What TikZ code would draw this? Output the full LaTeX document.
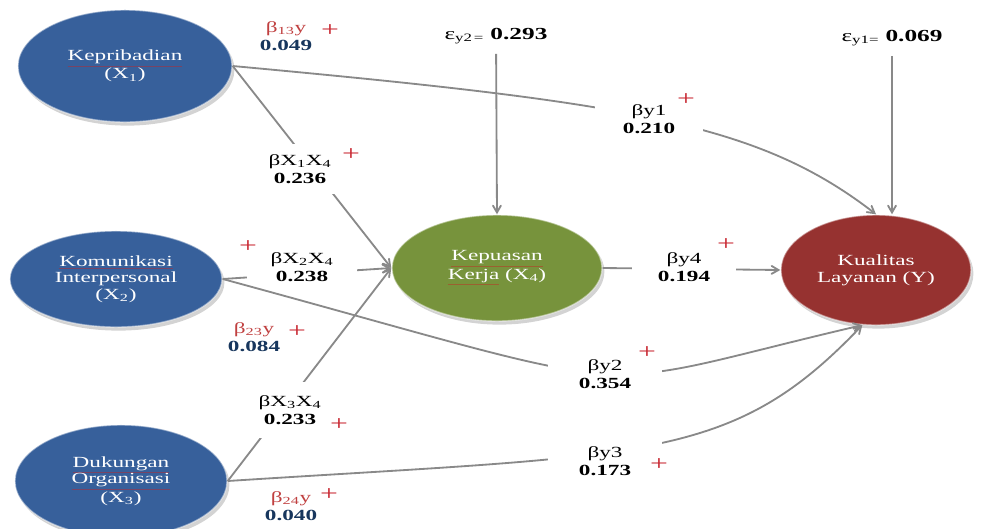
\documentclass[tikz,border=0pt]{standalone}
\usepackage{fontspec}
\setmainfont{Liberation Serif}[FakeStretch=1.5]
\usetikzlibrary{shapes.geometric, arrows, shadows}
\definecolor{varblue}{RGB}{55,96,155}
\definecolor{vargreen}{RGB}{119,147,60}
\definecolor{varred}{RGB}{150,50,48}
\definecolor{linegray}{RGB}{137,137,137}
\definecolor{betared}{RGB}{192,64,64}
\definecolor{numblue}{RGB}{23,54,93}
\definecolor{plusred}{RGB}{200,40,50}
\definecolor{spellred}{RGB}{200,35,35}
\newcommand{\spell}[1]{\textcolor{spellred}{\underline{\textcolor{white}{#1}}}}
\tikzstyle{var} = [ellipse, drop shadow={opacity=0.35,shadow xshift=0.6mm,shadow yshift=-0.9mm}, draw=white, draw opacity=0.45, line width=1pt, text=white, align=center, inner sep=0pt, font=\fontsize{11}{11.8}\selectfont]
\tikzstyle{arrow} = [line width=1.3pt, draw=linegray, ->, >=angle 60]
\tikzstyle{coef} = [fill=white, align=center, inner sep=0pt, font=\fontsize{11}{12.8}\selectfont]
\tikzstyle{err} = [inner sep=1pt, font=\fontsize{12}{13}\selectfont]
\tikzstyle{plus} = [inner sep=0pt, text=plusred, font=\fontsize{15}{15}\selectfont]

\begin{document}
\begin{tikzpicture}[x=0.025cm, y=-0.025cm]
\useasboundingbox (0,0) rectangle (981,528);

\node[var, fill=varblue, minimum width=5.35cm, minimum height=2.8cm] (X1) at (125,66) {\spell{Kepribadian}\\(X\textsubscript{1})};
\node[var, fill=varblue, minimum width=5.3cm, minimum height=2.4cm] (X2) at (116,279) {\spell{Komunikasi}\\Interpersonal\\(X\textsubscript{2})};
\node[var, fill=varblue, minimum width=5.3cm, minimum height=2.8cm] (X3) at (121,481) {\spell{Dukungan}\\\spell{Organisasi}\\(X\textsubscript{3})};
\node[var, fill=vargreen, minimum width=5.25cm, minimum height=2.65cm] (X4) at (497,268) {\spell{Kepuasan}\\\spell{Kerja} (X\textsubscript{4})};
\node[var, fill=varred, minimum width=4.75cm, minimum height=2.75cm] (Y) at (876,270) {Kualitas\\Layanan (Y)};

\node[err] (ey2) at (496,36) {ε\textsubscript{y2\,=} \textbf{0.293}};
\node[err] (ey1) at (892,38) {ε\textsubscript{y1=} \textbf{0.069}};

\draw[arrow] (X1.east) -- (X4.west);
\draw[arrow] (X2.east) -- (X4.west);
\draw[arrow] (X3.east) -- (X4.west);
\draw[arrow] (X4.east) -- (Y.west);
\draw[arrow, shorten <=0.2cm] (ey2) -- (X4.north);
\draw[arrow, shorten <=0.2cm] (ey1) -- (ey1 |- Y.north);
\draw[arrow] (X1.east) .. controls (632,103) and (758,123) .. (Y.north);
\draw[arrow] (X2.east) .. controls (672,401) and (570,393) .. (Y.-104);
\draw[arrow] (X3.east) .. controls (647,454) and (731,463) .. (Y.-104);

\node[coef, minimum width=1.95cm, minimum height=1.25cm] (bx1) at (300,169) {βX\textsubscript{1}X\textsubscript{4}\\\textbf{0.236}};
\node[coef, minimum width=2.75cm, minimum height=0.85cm] (bx2) at (302,267) {βX\textsubscript{2}X\textsubscript{4}\\\textbf{0.238}};
\node[coef, minimum width=1.75cm, minimum height=1.4cm] (bx3) at (290,410) {βX\textsubscript{3}X\textsubscript{4}\\\textbf{0.233}};
\node[coef, minimum width=2.7cm, minimum height=0.95cm] (by1) at (649,119) {βy1\\\textbf{0.210}};
\node[coef, minimum width=2.6cm, minimum height=0.9cm] (by4) at (684,267) {βy4\\\textbf{0.194}};
\node[coef, minimum width=2.85cm, minimum height=1.05cm] (by2) at (605,374) {βy2\\\textbf{0.354}};
\node[coef, minimum width=2.85cm, minimum height=1cm] (by3) at (605,461) {βy3\\\textbf{0.173}};
\node[coef, fill=none] (b13) at (286,36) {\textcolor{betared}{β\textsubscript{13}y}\\\textcolor{numblue}{\textbf{0.049}}};
\node[coef, fill=none] (b23) at (254,337) {\textcolor{betared}{β\textsubscript{23}y}\\\textcolor{numblue}{\textbf{0.084}}};
\node[coef, fill=none] (b24) at (291,506) {\textcolor{betared}{β\textsubscript{24}y}\\\textcolor{numblue}{\textbf{0.040}}};

\node[plus] (p13) at (330,31) {+};
\node[plus] (p23) at (297,332) {+};
\node[plus] (p24) at (329,495) {+};
\node[plus] (px1) at (351,155) {+};
\node[plus] (px2) at (248,247) {+};
\node[plus] (px3) at (339,425) {+};
\node[plus] (py1) at (686,100) {+};
\node[plus] (py4) at (726,245) {+};
\node[plus] (py2) at (647,353) {+};
\node[plus] (py3) at (659,465) {+};
\end{tikzpicture}
\end{document}
